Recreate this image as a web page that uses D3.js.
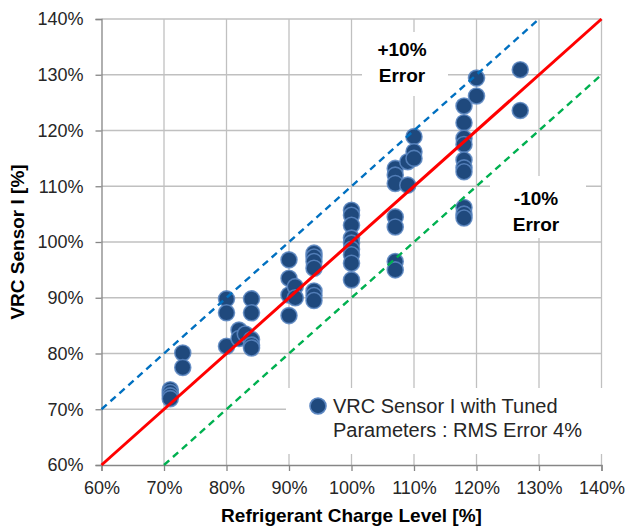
<!DOCTYPE html>
<html>
<head>
<meta charset="utf-8">
<script src="https://cdn.jsdelivr.net/npm/d3@7"></script>
<style>
  html, body { margin: 0; padding: 0; background: #fff; }
  svg { display: block; font-family: "Liberation Sans", Arial, sans-serif; }
</style>
</head>
<body>
<svg id="chart" width="627" height="529"></svg>
<script>
(function () {
  'use strict';

  // Charge levels [%] and the sensor readings [%] measured at each level
  var chargeLevels = [71, 73, 80, 82, 83, 84, 90, 91, 94, 100, 107, 109, 110, 118, 120, 127];
  var sensorReadings = [
    [73.5, 73.0, 72.4, 71.9],
    [80.1, 77.5],
    [89.8, 87.3, 81.3],
    [84.2, 82.7],
    [83.5],
    [89.8, 87.3, 82.5, 81.5, 81.0],
    [96.8, 93.5, 90.5, 86.8],
    [92.0, 90.0],
    [98.0, 97.3, 96.5, 95.3, 91.2, 90.4, 89.5],
    [105.7, 104.8, 103.0, 100.7, 99.8, 98.7, 97.7, 96.2, 93.2],
    [113.2, 112.0, 110.5, 104.5, 102.7, 96.5, 95.0],
    [114.4, 110.2],
    [118.9, 116.2, 115.0],
    [124.4, 121.4, 118.6, 117.5, 114.7, 113.3, 112.6, 106.2, 105.0, 104.3],
    [129.4, 126.2],
    [130.9, 123.6]
  ];

  var xTicks = [60, 70, 80, 90, 100, 110, 120, 130, 140];
  var yTicks = [60, 70, 80, 90, 100, 110, 120, 130, 140];

  // reference lines: perfect agreement and +/-10% error bands
  var refLines = [
    { name: 'plus10', pts: [[60, 70], [130, 140]], color: '#0070c0', dash: '7,5', width: 2.4 },
    { name: 'minus10', pts: [[70, 60], [140, 130]], color: '#00b050', dash: '7,5', width: 2.4 },
    { name: 'exact', pts: [[60, 60], [140, 140]], color: '#ff0000', dash: null, width: 3 }
  ];

  var points = [];
  chargeLevels.forEach(function (lvl, i) {
    sensorReadings[i].forEach(function (v) { points.push({ x: lvl, y: v }); });
  });

  var svg = d3.select('#chart');
  var left = 101.5, right = 601.5, top = 19, bottom = 465;

  var x = d3.scaleLinear().domain([60, 140]).range([left, right]);
  var y = d3.scaleLinear().domain([60, 140]).range([bottom, top]);
  var fmt = function (d) { return d + '%'; };

  // ── Grid ──────────────────────────────────────────────────────────────────
  var grid = svg.append('g');
  grid.selectAll('line.v')
    .data(xTicks.slice(1))
    .join('line')
    .attr('x1', function (d) { return x(d); }).attr('x2', function (d) { return x(d); })
    .attr('y1', top).attr('y2', bottom)
    .attr('stroke', '#c0c0c0').attr('stroke-width', 1.3);
  grid.selectAll('line.h')
    .data(yTicks.slice(1))
    .join('line')
    .attr('x1', left).attr('x2', right)
    .attr('y1', function (d) { return y(d); }).attr('y2', function (d) { return y(d); })
    .attr('stroke', '#c0c0c0').attr('stroke-width', 1.3);

  // ── Axes ──────────────────────────────────────────────────────────────────
  var xAxis = svg.append('g')
    .attr('transform', 'translate(0,' + bottom + ')')
    .call(d3.axisBottom(x).tickValues(xTicks).tickFormat(fmt).tickSize(6).tickPadding(7));
  var yAxis = svg.append('g')
    .attr('transform', 'translate(' + left + ',0)')
    .call(d3.axisLeft(y).tickValues(yTicks).tickFormat(fmt).tickSize(6).tickPadding(12));

  [xAxis, yAxis].forEach(function (a) {
    a.select('.domain').attr('stroke', '#868686').attr('stroke-width', 1.3);
    a.selectAll('.tick line').attr('stroke', '#868686').attr('stroke-width', 1.3);
    a.selectAll('.tick text')
      .attr('fill', '#262626')
      .style('font-size', '18px')
      .style('font-family', '"Liberation Sans", Arial, sans-serif');
  });
  xAxis.selectAll('.tick text').attr('dy', '0.9em');

  // ── Data points ───────────────────────────────────────────────────────────
  svg.append('g')
    .selectAll('circle')
    .data(points)
    .join('circle')
    .attr('cx', function (d) { return x(d.x); })
    .attr('cy', function (d) { return y(d.y); })
    .attr('r', 8)
    .attr('fill', '#1f497d')
    .attr('stroke', '#5c87c2')
    .attr('stroke-opacity', 0.85)
    .attr('stroke-width', 1.6);

  // ── Reference lines ───────────────────────────────────────────────────────
  var line = d3.line().x(function (d) { return x(d[0]); }).y(function (d) { return y(d[1]); });
  svg.append('g')
    .selectAll('path')
    .data(refLines)
    .join('path')
    .attr('d', function (d) { return line(d.pts); })
    .attr('fill', 'none')
    .attr('stroke', function (d) { return d.color; })
    .attr('stroke-width', function (d) { return d.width; })
    .attr('stroke-dasharray', function (d) { return d.dash; });

  // ── Error labels (with white boxes, like the original) ───────────────────
  function boxLabel(x0, y0, w, h, cx, lines, y1) {
    var g = svg.append('g');
    g.append('rect').attr('x', x0).attr('y', y0).attr('width', w).attr('height', h).attr('fill', '#fff');
    g.selectAll('text')
      .data(lines)
      .join('text')
      .attr('x', cx)
      .attr('y', function (d, i) { return y1 + i * 26; })
      .attr('text-anchor', 'middle')
      .attr('fill', '#000')
      .style('font-size', '19px')
      .style('font-weight', 'bold')
      .text(function (d) { return d; });
  }
  boxLabel(362, 32, 86, 64, 402, ['+10%', 'Error'], 56);
  boxLabel(490, 176, 96, 62, 536, ['-10%', 'Error'], 205);

  // ── Legend ────────────────────────────────────────────────────────────────
  var lg = svg.append('g');
  lg.append('rect').attr('x', 286).attr('y', 388).attr('width', 330).attr('height', 66).attr('fill', '#fff');
  lg.append('circle')
    .attr('cx', 318).attr('cy', 406).attr('r', 8)
    .attr('fill', '#1f497d').attr('stroke', '#5c87c2').attr('stroke-width', 1.6);
  lg.selectAll('text')
    .data(['VRC Sensor I with Tuned', 'Parameters : RMS Error 4%'])
    .join('text')
    .attr('x', 333)
    .attr('y', function (d, i) { return 413 + i * 24; })
    .attr('fill', '#262626')
    .style('font-size', '20px')
    .text(function (d) { return d; });

  // ── Axis titles ───────────────────────────────────────────────────────────
  svg.append('text')
    .attr('x', (left + right) / 2).attr('y', 522)
    .attr('text-anchor', 'middle')
    .style('font-size', '19px').style('font-weight', 'bold')
    .text('Refrigerant Charge Level [%]');
  svg.append('text')
    .attr('transform', 'translate(24,' + ((top + bottom) / 2) + ') rotate(-90)')
    .attr('text-anchor', 'middle')
    .style('font-size', '19px').style('font-weight', 'bold')
    .text('VRC Sensor I [%]');
})();
</script>
</body>
</html>
